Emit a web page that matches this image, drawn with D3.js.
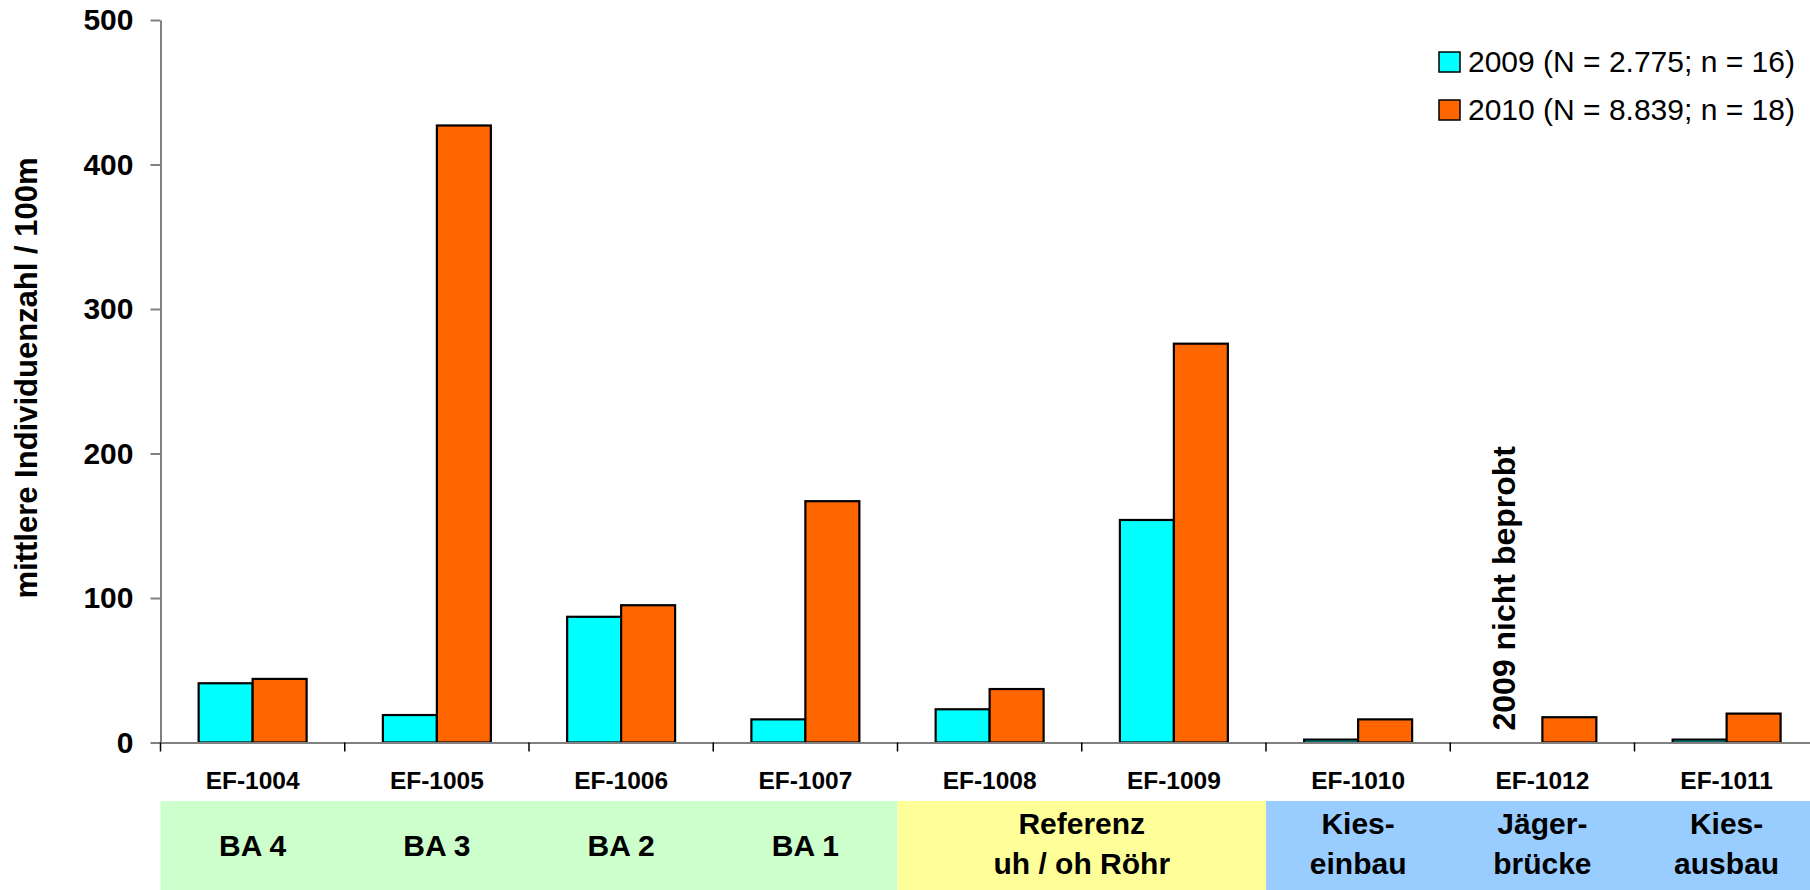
<!DOCTYPE html>
<html>
<head>
<meta charset="utf-8">
<script src="https://cdn.jsdelivr.net/npm/d3@7"></script>
<style>
  body { margin: 0; background: #fff; }
  svg { display: block; }
  text { font-family: "Liberation Sans", Arial, Helvetica, sans-serif; fill: #000; }
</style>
</head>
<body>
<svg id="chart" width="1810" height="890"></svg>
<script>
// Sampling sites (x categories) in plotting order
const categories = ["EF-1004", "EF-1005", "EF-1006", "EF-1007", "EF-1008", "EF-1009", "EF-1010", "EF-1012", "EF-1011"];
// Mean individuals per 100 m; null = site not sampled that year
const values2009 = [41, 19, 87, 16, 23, 154, 2, null, 2];
const values2010 = [44, 427, 95, 167, 37, 276, 16, 17.5, 20];
const seriesKeys = ["2009", "2010"];
const seriesLabels = ["2009 (N = 2.775; n = 16)", "2010 (N = 8.839; n = 18)"];
const seriesColors = ["#00FFFF", "#FF6600"];
const yTicks = [0, 100, 200, 300, 400, 500];
const yTitle = "mittlere Individuenzahl / 100m";
const noSampleNote = "2009 nicht beprobt";

// Section strip below the axis: shaded ranges and their labels (by category index)
const sectionShades = [
  { from: 0, to: 4, color: "#CCFFCC" },
  { from: 4, to: 6, color: "#FFFF99" },
  { from: 6, to: 9, color: "#99CCFF" }
];
const sectionLabels = [
  { from: 0, to: 1, lines: ["BA 4"] },
  { from: 1, to: 2, lines: ["BA 3"] },
  { from: 2, to: 3, lines: ["BA 2"] },
  { from: 3, to: 4, lines: ["BA 1"] },
  { from: 4, to: 6, lines: ["Referenz", "uh / oh Röhr"] },
  { from: 6, to: 7, lines: ["Kies-", "einbau"] },
  { from: 7, to: 8, lines: ["Jäger-", "brücke"] },
  { from: 8, to: 9, lines: ["Kies-", "ausbau"] }
];

const W = 1810, H = 890;
const plotLeft = 160.5, plotRight = 1818.75, plotTop = 20, plotBottom = 742.5;
const stripTop = 801, stripBottom = 890;
const axisGrey = "#808080";

const svg = d3.select("#chart");

const x = d3.scaleBand().domain(categories).range([plotLeft, plotRight]).padding(0);
const bw = x.bandwidth();
const xs = d3.scaleBand().domain(seriesKeys).range([bw * 0.207, bw * 0.793]).padding(0);
const y = d3.scaleLinear().domain([0, 500]).range([plotBottom, plotTop]);

const rows = categories.map((c, i) => ({ cat: c, v: [values2009[i], values2010[i]] }));

// Section strip backgrounds
const edge = i => (i >= categories.length ? W : x(categories[i]));
svg.append("g").selectAll("rect").data(sectionShades).join("rect")
  .attr("x", d => edge(d.from))
  .attr("width", d => edge(d.to) - edge(d.from))
  .attr("y", stripTop)
  .attr("height", stripBottom - stripTop)
  .attr("fill", d => d.color);

// Section strip labels
const secG = svg.append("g").attr("font-weight", "bold").attr("font-size", 30).attr("text-anchor", "middle");
sectionLabels.forEach(s => {
  const cx = (x(categories[s.from]) + x(categories[s.to - 1]) + bw) / 2;
  const centers = s.lines.length === 1 ? [845] : [823, 863];
  s.lines.forEach((t, k) => {
    secG.append("text").attr("x", cx).attr("y", centers[k]).attr("dy", "0.35em").text(t);
  });
});

// Bars
const barG = svg.append("g");
rows.forEach(r => {
  seriesKeys.forEach((k, j) => {
    const v = r.v[j];
    if (v == null) return;
    barG.append("rect")
      .attr("x", x(r.cat) + xs(k))
      .attr("width", xs.bandwidth())
      .attr("y", y(v))
      .attr("height", y(0) - y(v))
      .attr("fill", seriesColors[j])
      .attr("stroke", "#000")
      .attr("stroke-width", 2.2);
  });
});

// Y axis
const yAxis = svg.append("g")
  .attr("transform", `translate(${plotLeft},0)`)
  .call(d3.axisLeft(y).tickValues(yTicks).tickSize(10).tickPadding(17).tickSizeOuter(0));
yAxis.select(".domain").attr("stroke", axisGrey).attr("stroke-width", 2);
yAxis.selectAll(".tick line").attr("stroke", axisGrey).attr("stroke-width", 2);
yAxis.selectAll(".tick text").attr("font-size", 30).attr("font-weight", "bold")
  .attr("font-family", "'Liberation Sans', Arial, sans-serif").attr("fill", "#000");

// X axis: labels at band centres, ticks at band boundaries
const xAxis = svg.append("g")
  .attr("transform", `translate(0,${plotBottom})`)
  .call(d3.axisBottom(x).tickSize(0).tickPadding(0).tickSizeOuter(0));
xAxis.select(".domain").attr("stroke", axisGrey).attr("stroke-width", 2);
xAxis.selectAll(".tick text").attr("font-size", 24.5).attr("font-weight", "bold")
  .attr("font-family", "'Liberation Sans', Arial, sans-serif").attr("fill", "#000")
  .attr("y", 38).attr("dy", "0.35em");
const bounds = categories.map(c => x(c));
xAxis.append("g").selectAll("line").data(bounds).join("line")
  .attr("x1", d => d).attr("x2", d => d)
  .attr("y1", 0).attr("y2", 9)
  .attr("stroke", "#000").attr("stroke-width", 1.5);

// Y axis title
svg.append("text")
  .attr("transform", `translate(37,378) rotate(-90)`)
  .attr("text-anchor", "middle")
  .attr("font-size", 31).attr("font-weight", "bold")
  .text(yTitle);

// Note for the unsampled 2009 site
const noteCat = categories[values2009.findIndex(v => v == null)];
svg.append("text")
  .attr("transform", `translate(${x(noteCat) + xs("2009") + xs.bandwidth() / 2},${y(0) - 12}) rotate(-90)`)
  .attr("text-anchor", "start")
  .attr("font-size", 32).attr("font-weight", "bold")
  .text(noSampleNote);

// Legend
const legend = svg.append("g").attr("transform", "translate(1439,52)");
seriesLabels.forEach((lab, i) => {
  const g = legend.append("g").attr("transform", `translate(0,${i * 48})`);
  g.append("rect").attr("width", 21).attr("height", 20)
    .attr("fill", seriesColors[i]).attr("stroke", "#000").attr("stroke-width", 1.5);
  g.append("text").attr("x", 29).attr("y", 20).attr("font-size", 30).text(lab);
});
</script>
</body>
</html>
